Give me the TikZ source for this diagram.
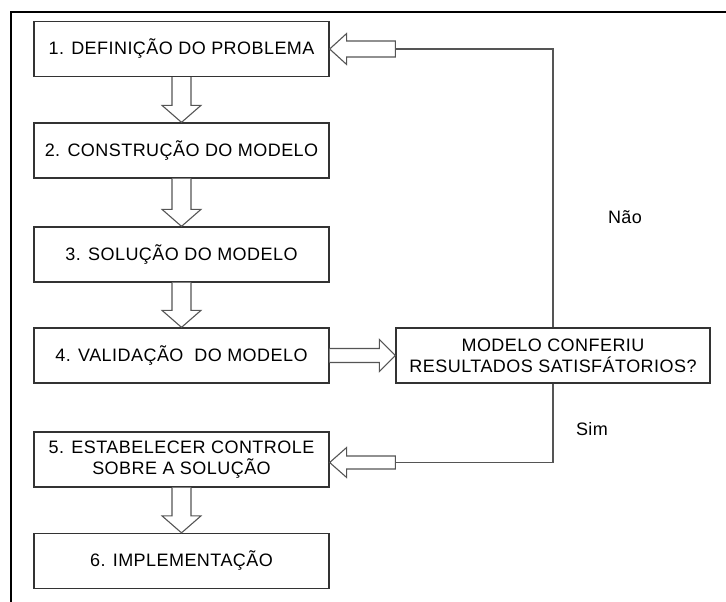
\documentclass[tikz,border=0pt]{standalone}
\usepackage{fontspec}
\setmainfont{Liberation Sans}[LetterSpace=2.5]
\usetikzlibrary{calc}
\definecolor{boxc}{HTML}{333333}
\definecolor{arrc}{HTML}{555555}
\newcommand\blkdown[2]{%
  \draw[blkarrow] ($(#1.south)+(-9.5,0)$) -- ($(#2.north)+(-9.5,-17)$) -- ($(#2.north)+(-19.5,-17)$) -- (#2.north)
   -- ($(#2.north)+(19.5,-17)$) -- ($(#2.north)+(9.5,-17)$) -- ($(#1.south)+(9.5,0)$);}
\begin{document}
\begin{tikzpicture}[x=1pt,y=-1pt,
  stepbox/.style={draw=boxc,line width=1.3pt,minimum width=295pt,minimum height=55pt,inner sep=0pt,align=center,font=\fontsize{18}{21}\selectfont},
  decbox/.style={stepbox,minimum width=314pt},
  blkarrow/.style={draw=arrc,line width=1.1pt,fill=white,line join=miter},
  conn/.style={draw=arrc,line width=1.3pt},
  lbl/.style={font=\fontsize{18}{21}\selectfont,inner sep=0pt}]
\useasboundingbox (0,0) rectangle (726,602);
\draw[line width=2pt,black] (726,12) -- (11,12) -- (11,602);
\node[stepbox] (b1) at (181.5,49) {1. DEFINIÇÃO DO PROBLEMA};
\node[stepbox] (b2) at (181.5,150.5) {2. CONSTRUÇÃO DO MODELO};
\node[stepbox] (b3) at (181.5,254.5) {3. SOLUÇÃO DO MODELO};
\node[stepbox] (b4) at (181.5,355.5) {4. VALIDAÇÃO\ \ DO MODELO};
\node[stepbox] (b5) at (181.5,459.5) {5. ESTABELECER CONTROLE\\SOBRE A SOLUÇÃO};
\node[stepbox] (b6) at (181.5,561) {6. IMPLEMENTAÇÃO};
\node[decbox] (dec) at (553,355.5) {MODELO CONFERIU\\RESULTADOS SATISFÁTORIOS?};
\blkdown{b1}{b2}
\blkdown{b2}{b3}
\blkdown{b3}{b4}
\blkdown{b5}{b6}
% 4 -> decision
\draw[blkarrow] ($(b4.east)+(0,-7)$) -- ($(dec.west)+(-16,-7)$) -- ($(dec.west)+(-16,-16)$) -- (dec.west)
  -- ($(dec.west)+(-16,16)$) -- ($(dec.west)+(-16,7)$) -- ($(b4.east)+(0,7)$);
% Nao loop
\coordinate (t1) at (b1.east -| dec.west);
\coordinate (c1) at (b1.east -| dec.north);
\draw[conn] (dec.north) -- (c1) -- (t1);
\draw[blkarrow] (b1.east) -- ($(b1.east)+(17,-15.5)$) -- ($(b1.east)+(17,-8)$) -- ($(t1)+(0,-8)$)
  -- ($(t1)+(0,8)$) -- ($(b1.east)+(17,8)$) -- ($(b1.east)+(17,15.5)$) -- cycle;
% Sim
\coordinate (h5) at ($(b5.east)+(0,3)$);
\coordinate (t5) at (h5 -| dec.west);
\coordinate (c5) at (h5 -| dec.south);
\draw[conn] (dec.south) -- (c5) -- (t5);
\draw[blkarrow] (h5) -- ($(h5)+(17,-15)$) -- ($(h5)+(17,-6.5)$) -- ($(t5)+(0,-6.5)$)
  -- ($(t5)+(0,6.5)$) -- ($(h5)+(17,6.5)$) -- ($(h5)+(17,15)$) -- cycle;
\node[lbl] (nao) at (625,217) {Não};
\node[lbl] (sim) at (592,429) {Sim};
\end{tikzpicture}
\end{document}
